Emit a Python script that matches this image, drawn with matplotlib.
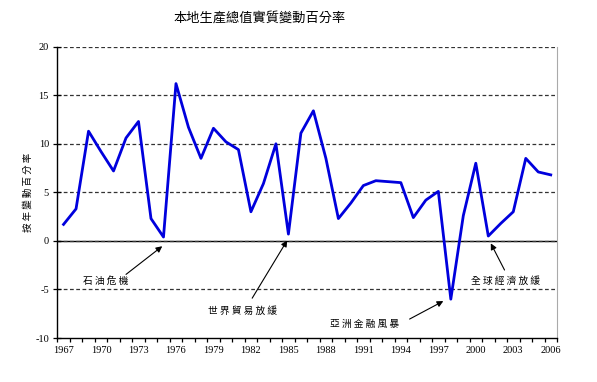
import matplotlib.pyplot as plt
import numpy as np

# données : variation annuelle du PIB réel (%)
years = list(range(1967, 2007))
growth = [1.7, 3.3, 11.3, 9.2, 7.2, 10.6, 12.3, 2.3, 0.4, 16.2,
          11.7, 8.5, 11.6, 10.2, 9.4, 3.0, 5.9, 10.0, 0.7, 11.1,
          13.4, 8.5, 2.3, 3.9, 5.7, 6.2, 6.1, 6.0, 2.4, 4.2,
          5.1, -6.0, 2.6, 8.0, 0.5, 1.8, 3.0, 8.5, 7.1, 6.8]
label_years = list(range(1967, 2007, 3))
y_ticks = [-10, -5, 0, 5, 10, 15, 20]

# annotations : texte, position du texte, départ et pointe de la flèche
notes = ['石油危機', '世界貿易放緩', '亞洲金融風暴', '全球經濟放緩']
note_pos = [(1970.4, -4.15), (1981.3, -7.25), (1991.1, -8.6), (2002.4, -4.15)]
arrow_tail = [(1972.0, -3.45), (1982.1, -5.9), (1994.7, -8.05), (2002.3, -3.0)]
arrow_tip = [(1974.9, -0.55), (1984.9, 0.05), (1997.4, -6.2), (2001.2, -0.25)]

cjk = ['Noto Sans CJK TC', 'DejaVu Sans']
serif = 'Liberation Serif'


def spaced(s):
    # espacement entre caractères, comme dans l'original
    return ' '.join(s)


fig = plt.figure(figsize=(5.97, 3.82), dpi=100)
ax = fig.add_axes([57.3 / 597, 44 / 382, 499.7 / 597, 291.3 / 382])

# grille en pointillés
for v in [-5, 5, 10, 15, 20]:
    ax.axhline(v, color='#333333', lw=0.9, ls=(0, (3, 2)), zorder=1)
ax.axhline(0, color='black', lw=1.0, zorder=1)
ax.axhline(0, color='#333333', lw=0.9, ls=(0, (3, 2)), zorder=1)

ax.plot(years, growth, color='#0000dd', lw=2.0, zorder=3)

ax.set_xlim(1966.5, 2006.5)
ax.set_ylim(-10, 20)

ax.set_xticks(label_years)
ax.set_xticklabels([str(y) for y in label_years], fontfamily=serif, fontsize=7.5)
ax.set_xticks(np.arange(1966.5, 2007, 1.0), minor=True)
ax.tick_params(axis='x', which='major', length=0, pad=6)
ax.tick_params(axis='x', which='minor', direction='out', length=3, width=0.9)

ax.set_yticks(y_ticks)
ax.set_yticklabels([str(v) for v in y_ticks], fontfamily=serif, fontsize=7.5)
ax.tick_params(axis='y', direction='inout', length=6, width=0.9, pad=3)

ax.spines['top'].set_visible(False)
ax.spines['right'].set_color('#aaaaaa')
ax.spines['left'].set_linewidth(1.0)
ax.spines['bottom'].set_linewidth(1.0)

for txt, pos, tail, tip in zip(notes, note_pos, arrow_tail, arrow_tip):
    ax.text(pos[0], pos[1], spaced(txt), fontfamily=cjk, fontsize=7,
            ha='center', va='center', zorder=4)
    ax.annotate('', xy=tip, xytext=tail,
                arrowprops=dict(arrowstyle='-|>', color='black', lw=0.8,
                                mutation_scale=9, shrinkA=0, shrinkB=0),
                zorder=4)

fig.text(259.5 / 597, 1 - 18 / 382, '本地生產總值實質變動百分率',
         fontfamily=cjk, fontsize=9.5, ha='center', va='center')
fig.text(28 / 597, 1 - 192 / 382, spaced('按年變動百分率'), fontfamily=cjk,
         fontsize=6.8, rotation=90, ha='center', va='center')

fig.savefig('out.png', dpi=100)
